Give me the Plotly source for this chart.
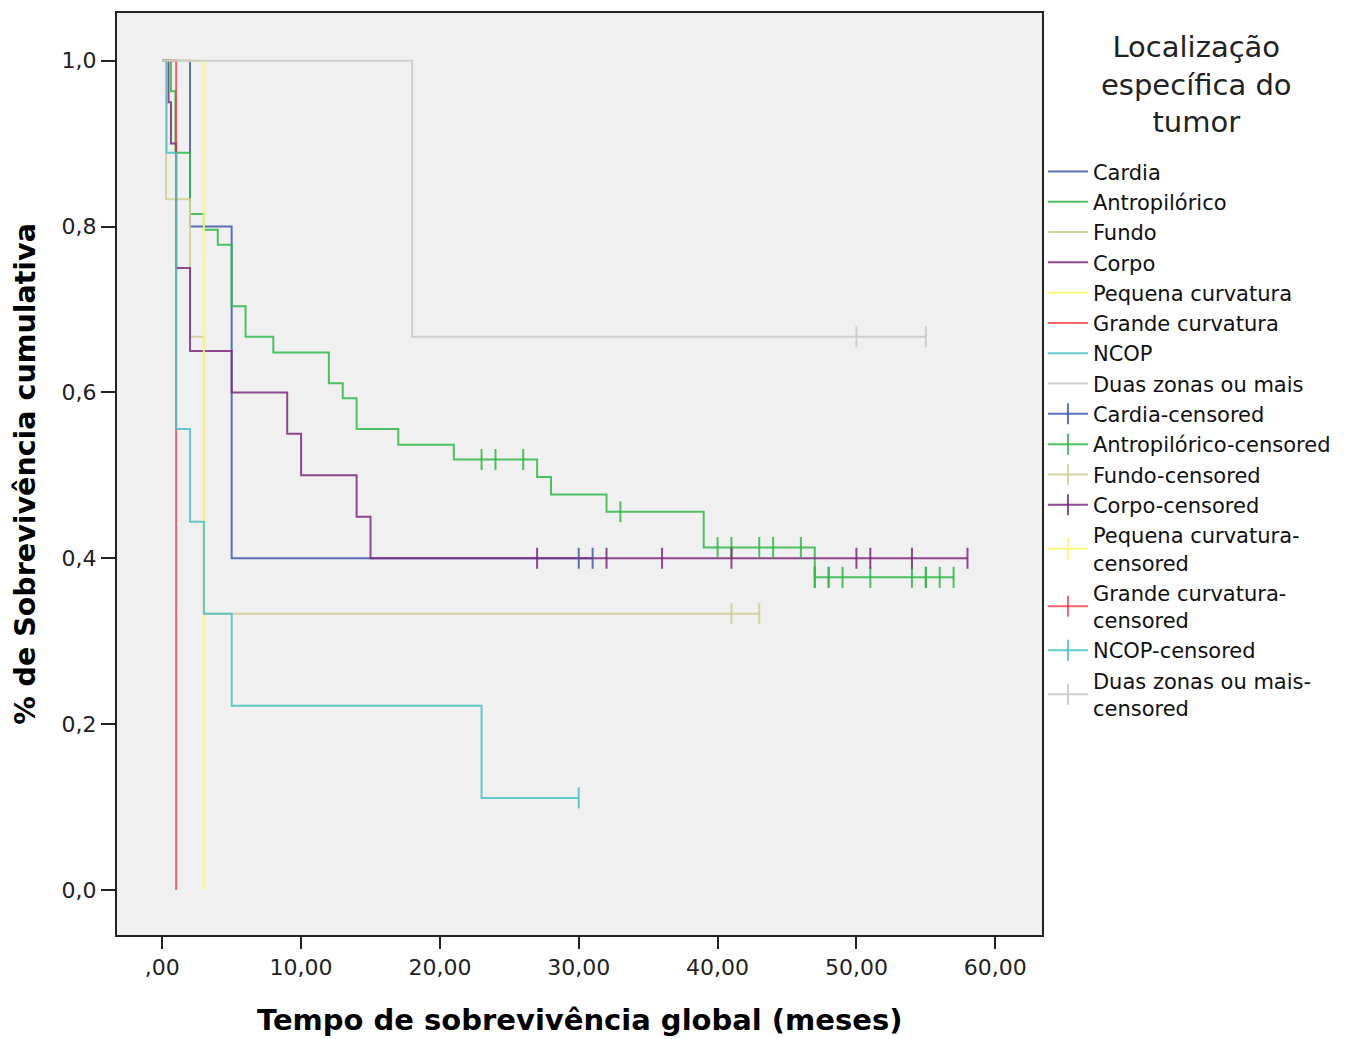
import plotly.graph_objects as go
from bisect import bisect_right

# Kaplan-Meier estimates by tumour location: step times (months), survival after each step,
# and times of censored cases
groups = ["Cardia", "Antropilórico", "Fundo", "Corpo", "Pequena curvatura",
          "Grande curvatura", "NCOP", "Duas zonas ou mais"]

cardia_t = [0, 2, 5]
cardia_s = [1.0, 0.8, 0.4]
cardia_cens = [30, 31]

antro_t = [0, 0.63, 0.95, 2, 3, 4, 5, 6, 8, 12, 13, 14, 17, 21, 27, 28, 32, 39, 47]
antro_s = [1.0, 0.963, 0.889, 0.815, 0.796, 0.778, 0.704, 0.667, 0.648, 0.611, 0.593,
           0.556, 0.537, 0.519, 0.498, 0.477, 0.456, 0.413, 0.377]
antro_cens = [23, 24, 26, 33, 40, 41, 43, 44, 46, 47, 47, 48, 48, 49, 51, 54, 55, 55, 56, 57]

fundo_t = [0, 0.27, 2, 3]
fundo_s = [1.0, 0.833, 0.667, 0.333]
fundo_cens = [41, 43]

corpo_t = [0, 0.45, 0.63, 1, 2, 5, 9, 10, 14, 15]
corpo_s = [1.0, 0.95, 0.90, 0.75, 0.65, 0.60, 0.55, 0.50, 0.45, 0.40]
corpo_cens = [27, 32, 36, 41, 50, 51, 54, 58]

pequena_t = [0, 3]
pequena_s = [1.0, 0.0]
pequena_cens = []

grande_t = [0, 1]
grande_s = [1.0, 0.0]
grande_cens = []

ncop_t = [0, 0.31, 1, 2, 3, 5, 23]
ncop_s = [1.0, 0.889, 0.556, 0.444, 0.333, 0.222, 0.111]
ncop_cens = [30]

duas_t = [0, 18]
duas_s = [1.0, 0.667]
duas_cens = [50, 55]

x_tickvals = [0, 10, 20, 30, 40, 50, 60]
x_ticktext = [",00", "10,00", "20,00", "30,00", "40,00", "50,00", "60,00"]
y_tickvals = [0.0, 0.2, 0.4, 0.6, 0.8, 1.0]
y_ticktext = ["0,0", "0,2", "0,4", "0,6", "0,8", "1,0"]

colors = ["rgba(62,88,172,0.85)", "rgba(46,184,72,0.85)", "rgba(211,206,151,0.9)",
          "rgba(124,40,125,0.85)", "rgba(251,248,115,0.9)", "rgba(239,51,56,0.75)",
          "rgba(72,194,197,0.85)", "rgba(204,204,204,0.95)"]

series = [
    (cardia_t, cardia_s, cardia_cens),
    (antro_t, antro_s, antro_cens),
    (fundo_t, fundo_s, fundo_cens),
    (corpo_t, corpo_s, corpo_cens),
    (pequena_t, pequena_s, pequena_cens),
    (grande_t, grande_s, grande_cens),
    (ncop_t, ncop_s, ncop_cens),
    (duas_t, duas_s, duas_cens),
]


def surv_at(times, surv, t):
    return surv[bisect_right(times, t) - 1]


fig = go.Figure()

# survival step curves
for name, col, (t, s, c) in zip(groups, colors, series):
    xs = list(t)
    ys = list(s)
    if c:
        xs.append(max(c))
        ys.append(s[-1])
    fig.add_trace(go.Scatter(
        x=xs, y=ys, mode="lines", name=name,
        line=dict(color=col, width=2, shape="hv"),
        hoverinfo="skip",
    ))

# censored cases as tick marks on the curves
legend_names_cens = ["Cardia-censored", "Antropilórico-censored", "Fundo-censored",
                     "Corpo-censored", "Pequena curvatura-<br>censored",
                     "Grande curvatura-<br>censored", "NCOP-censored",
                     "Duas zonas ou mais-<br>censored"]
for lname, col, (t, s, c) in zip(legend_names_cens, colors, series):
    xs, ys = [], []
    for ct in c:
        xs += [ct, None]
        ys += [surv_at(t, s, ct), None]
    if not xs:
        xs, ys = [None], [None]
    fig.add_trace(go.Scatter(
        x=xs, y=ys, mode="lines+markers", name=lname,
        connectgaps=False,
        line=dict(color=col, width=2),
        marker=dict(symbol="line-ns", size=15, color=col, line=dict(color=col, width=2)),
        hoverinfo="skip",
    ))

# legend heading, centred above the legend entries
fig.add_annotation(
    text="Localização<br>específica do<br>tumor",
    xref="paper", yref="paper", x=0.878, y=0.922,
    xanchor="center", yanchor="middle", align="center", showarrow=False,
    font=dict(size=29, family="DejaVu Sans", color="#222"),
)

fig.update_layout(
    width=1347, height=1039,
    margin=dict(l=117, r=0, t=13, b=104, autoexpand=False),
    paper_bgcolor="white",
    plot_bgcolor="#F0F0F0",
    font=dict(family="DejaVu Sans", color="black", size=21),
    showlegend=True,
    legend=dict(
        x=0.7528, xanchor="left", y=0.850, yanchor="top",
        bgcolor="rgba(0,0,0,0)", borderwidth=0,
        font=dict(size=21, family="DejaVu Sans", color="#111"),
        tracegroupgap=0,
        itemwidth=40,
    ),
    xaxis=dict(
        domain=[0, 0.7524], automargin=False,
        range=[-3.26, 63.4], tickvals=x_tickvals, ticktext=x_ticktext,
        ticks="outside", ticklen=12, tickwidth=1.5, tickcolor="#222",
        showgrid=False, zeroline=False,
        showline=True, mirror=True, linecolor="#222", linewidth=2,
        tickfont=dict(size=22, color="#222"),
        title=dict(text="<b>Tempo de sobrevivência global (meses)</b>",
                   font=dict(size=29, color="black"), standoff=30),
    ),
    yaxis=dict(
        automargin=False,
        range=[-0.0543, 1.0575], tickvals=y_tickvals, ticktext=y_ticktext,
        ticks="outside", ticklen=14, tickwidth=1.5, tickcolor="#222",
        showgrid=False, zeroline=False,
        showline=True, mirror=True, linecolor="#222", linewidth=2,
        tickfont=dict(size=22, color="#222"),
        title=dict(text="<b>% de Sobrevivência cumulativa</b>",
                   font=dict(size=28.5, color="black"), standoff=18),
    ),
)

fig.write_html("out.html")
